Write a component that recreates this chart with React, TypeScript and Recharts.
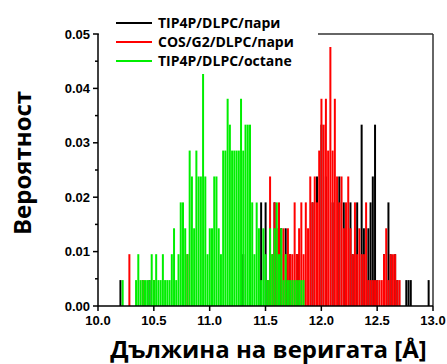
import { Bar, BarChart, Legend, ReferenceLine, XAxis, YAxis } from 'recharts'

// histogram bins: [chain length in Å, count]; one count = 1/210 of the samples
const binShare = 1 / 210

const tip4pVapour: [number, number][] = [
  [10.2, 1], [10.46, 1], [11.3, 2], [11.46, 4], [11.5, 4], [11.58, 4], [11.64, 3], [11.68, 3],
  [11.72, 2], [11.78, 2], [11.8, 2], [11.92, 4], [11.96, 5], [12.0, 7], [12.04, 5], [12.1, 4],
  [12.16, 5], [12.2, 4], [12.26, 4], [12.28, 2], [12.32, 4], [12.36, 7], [12.38, 3], [12.42, 3],
  [12.44, 4], [12.46, 5], [12.48, 7], [12.5, 1], [12.56, 2], [12.6, 4], [12.62, 2], [12.66, 2],
  [12.68, 1], [12.76, 1], [12.78, 1], [12.8, 1], [12.96, 1],
]

const cosVapour: [number, number][] = [
  [10.28, 2], [10.4, 1], [10.5, 1], [10.8, 2],
  [11.52, 1], [11.54, 5], [11.56, 2], [11.58, 4], [11.6, 3], [11.62, 4], [11.64, 2], [11.66, 3],
  [11.68, 2], [11.7, 3], [11.72, 2], [11.74, 2], [11.76, 4], [11.78, 2], [11.8, 3], [11.82, 4],
  [11.84, 2], [11.86, 4], [11.88, 3], [11.9, 5], [11.92, 4], [11.94, 5], [11.96, 4], [11.98, 6],
  [12.0, 8], [12.02, 7], [12.04, 8], [12.06, 6], [12.08, 10], [12.1, 6], [12.12, 8], [12.14, 5],
  [12.16, 4], [12.18, 5], [12.2, 3], [12.22, 4], [12.24, 5], [12.26, 3], [12.28, 2], [12.3, 4],
  [12.32, 2], [12.34, 3], [12.36, 2], [12.38, 2], [12.4, 4], [12.42, 1], [12.44, 1], [12.46, 1],
  [12.48, 1], [12.5, 1], [12.52, 1], [12.54, 1], [12.56, 2], [12.58, 3], [12.6, 1], [12.62, 2],
  [12.64, 2], [12.66, 2], [12.68, 1], [12.7, 1],
]

const tip4pOctane: [number, number][] = [
  [10.22, 1],
  [10.34, 1], [10.36, 2], [10.38, 1], [10.4, 1], [10.42, 1], [10.44, 1], [10.46, 1], [10.48, 2],
  [10.5, 1], [10.52, 2], [10.54, 1], [10.56, 1], [10.58, 2], [10.6, 1], [10.62, 1], [10.64, 1],
  [10.66, 2], [10.68, 3], [10.7, 1], [10.72, 2], [10.74, 4], [10.76, 4], [10.78, 3], [10.8, 2],
  [10.82, 6], [10.84, 5], [10.86, 3], [10.88, 6], [10.9, 5], [10.92, 5], [10.94, 9], [10.96, 5],
  [10.98, 2], [11.0, 3], [11.02, 3], [11.04, 5], [11.06, 5], [11.08, 3], [11.1, 2], [11.12, 6],
  [11.14, 6], [11.16, 8], [11.18, 7], [11.2, 6], [11.22, 6], [11.24, 6], [11.26, 6], [11.28, 8],
  [11.3, 6], [11.32, 7], [11.34, 7], [11.36, 7], [11.38, 4], [11.4, 2], [11.42, 4], [11.44, 3],
  [11.46, 1], [11.48, 3], [11.5, 2], [11.52, 1], [11.54, 3], [11.56, 2], [11.58, 3], [11.6, 4],
  [11.62, 2], [11.64, 3], [11.66, 1], [11.68, 2], [11.7, 1], [11.72, 1], [11.74, 1], [11.76, 1],
  [11.78, 1], [11.8, 1], [11.82, 1], [11.84, 1],
]

const xTicks = [10, 10.5, 11, 11.5, 12, 12.5, 13]
const yTicks = [0, 0.005, 0.01, 0.015, 0.02, 0.025, 0.03, 0.035, 0.04, 0.045, 0.05]

const series = [
  { key: 'black', name: 'TIP4P/DLPC/пари', color: '#000000', bins: tip4pVapour },
  { key: 'red', name: 'COS/G2/DLPC/пари', color: '#ff0000', bins: cosVapour },
  { key: 'green', name: 'TIP4P/DLPC/octane', color: '#00ee00', bins: tip4pOctane },
]

const byX: Record<string, any> = {}
for (const s of series) {
  for (const [x, n] of s.bins) {
    const k = x.toFixed(2)
    if (!byX[k]) byX[k] = { x: Number(k), black: null, red: null, green: null }
    byX[k][s.key] = n * binShare
  }
}
const rows = Object.values(byX).sort((a, b) => a.x - b.x)

const tickFont = { fontFamily: 'Liberation Sans, Arial', fontSize: 13, fontWeight: 700, fill: '#000' }
const titleFont = { fontFamily: 'Open Sans', fontSize: 24, fontWeight: 700, fill: '#000' }

function ProbTick(props: any) {
  const { x, y, payload } = props
  const major = Math.round(payload.value * 1000) % 10 === 0
  const axisX = x + 8
  return (
    <g>
      <line x1={axisX - (major ? 5 : 3)} x2={axisX} y1={y} y2={y} stroke="#000" strokeWidth={1.5} />
      {major && (
        <text x={x} y={y} dy="0.35em" textAnchor="end" style={tickFont}>
          {payload.value.toFixed(2)}
        </text>
      )}
    </g>
  )
}

function SeriesKey() {
  return (
    <div style={{ background: '#fff', padding: '3px 0 4px 17px' }}>
      {series.map((s) => (
        <div key={s.key} style={{ display: 'flex', alignItems: 'center', height: 19 }}>
          <svg width={36} height={4} style={{ display: 'block' }}>
            <line x1={0} x2={36} y1={2} y2={2} stroke={s.color} strokeWidth={2} />
          </svg>
          <span style={{ marginLeft: 6, font: '700 14px "Open Sans"', color: '#000', whiteSpace: 'nowrap' }}>
            {s.name}
          </span>
        </div>
      ))}
    </div>
  )
}

export default function App() {
  return (
    <div style={{ position: 'absolute', left: 0, top: 0, background: '#fff' }}>
      <BarChart width={447} height={364} data={rows} margin={{ top: 34, right: 14, bottom: 0, left: 0 }}>
        <XAxis
          xAxisId="black"
          type="number"
          dataKey="x"
          domain={[10, 13]}
          ticks={xTicks}
          interval={0}
          tickFormatter={(v: number) => v.toFixed(1)}
          height={58}
          tickSize={5}
          tickMargin={5}
          tick={tickFont}
          axisLine={{ stroke: '#000', strokeWidth: 1.5 }}
          tickLine={{ stroke: '#000', strokeWidth: 1.5 }}
          allowDataOverflow
          label={{ value: 'Дължина на веригата [Å]', position: 'insideBottom', offset: 6, dx: 3, style: titleFont }}
        />
        <XAxis xAxisId="red" type="number" dataKey="x" domain={[10, 13]} allowDataOverflow hide />
        <XAxis xAxisId="green" type="number" dataKey="x" domain={[10, 13]} allowDataOverflow hide />
        <YAxis
          type="number"
          domain={[0, 0.05]}
          ticks={yTicks}
          interval={0}
          width={98}
          tickSize={5}
          tickMargin={3}
          tickLine={false}
          tick={<ProbTick />}
          axisLine={{ stroke: '#000', strokeWidth: 1.5 }}
          allowDataOverflow
          label={{ value: 'Вероятност', angle: -90, position: 'center', dx: -27, dy: -7, style: titleFont }}
        />
        <ReferenceLine xAxisId="black" y={0.05} stroke="#333" strokeWidth={1.5} />
        <ReferenceLine xAxisId="black" x={13} stroke="#333" strokeWidth={1.5} />
        {series.map((s) => (
          <Bar
            key={s.key}
            xAxisId={s.key}
            dataKey={s.key}
            name={s.name}
            fill={s.color}
            isAnimationActive={false}
          />
        ))}
        <Legend
          layout="vertical"
          align="center"
          verticalAlign="middle"
          wrapperStyle={{ left: 99, top: 10, width: 219 }}
          content={<SeriesKey />}
        />
      </BarChart>
    </div>
  )
}
